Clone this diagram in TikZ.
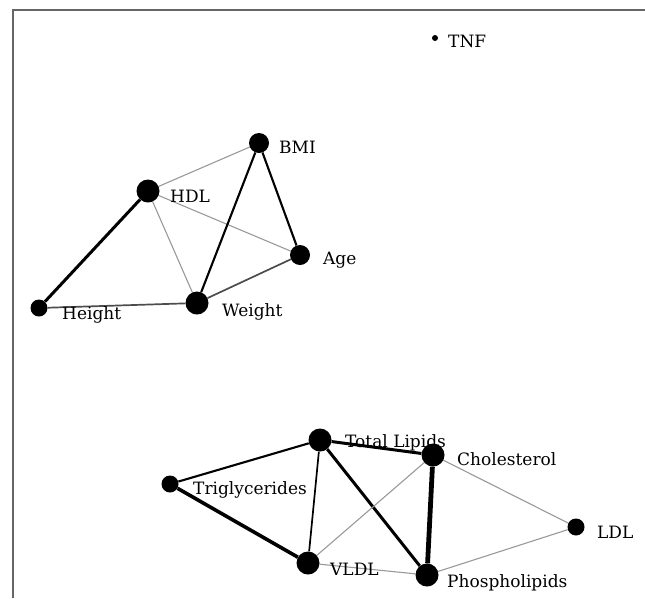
\documentclass[tikz,border=0pt]{standalone}
\usepackage{fontspec}
\setmainfont{DejaVu Serif}
\usetikzlibrary{positioning, backgrounds}

\begin{document}
\begin{tikzpicture}[x=1pt, y=-1pt,
  dotL/.style={circle, fill=black, inner sep=0pt, minimum size=23pt},
  dotM/.style={circle, fill=black, inner sep=0pt, minimum size=20pt},
  dotS/.style={circle, fill=black, inner sep=0pt, minimum size=17pt},
  dotXS/.style={circle, fill=black, inner sep=0pt, minimum size=6pt},
  lbl/.style={anchor=base west, inner sep=0pt, font=\fontsize{17}{19}\selectfont},
  weak/.style={draw=black!40, line width=1.1pt},
  soft/.style={draw=black!70, line width=1.7pt},
  fair/.style={draw=black, line width=2.1pt},
  strong/.style={draw=black, line width=3pt},
  vstrong/.style={draw=black, line width=4.8pt}]
  \useasboundingbox (0,0) rectangle (645,598);
  \draw[black!60, line width=2.5pt] (13,598) -- (13,10) -- (645,10);

  % upper cluster
  \node[dotXS] (tnf) at (435,38) {};
  \node[dotM] (bmi) at (259,143) {};
  \node[dotL] (hdl) at (148,191) {};
  \node[dotM] (age) at (300,255) {};
  \node[dotS] (height) at (39,308) {};
  \node[dotL] (weight) at (197,303) {};

  % lower cluster
  \node[dotL] (tl) at (320,440) {};
  \node[dotL] (chol) at (433,455) {};
  \node[dotS] (trig) at (170,484) {};
  \node[dotS] (ldl) at (576,527) {};
  \node[dotL] (vldl) at (308,563) {};
  \node[dotL] (phos) at (427,575) {};

  % labels
  \node[lbl] (tnfT) at ([shift={(13,9)}]tnf) {TNF};
  \node[lbl] (bmiT) at ([shift={(20,10)}]bmi) {BMI};
  \node[lbl] (hdlT) at ([shift={(22,11)}]hdl) {HDL};
  \node[lbl] (ageT) at ([shift={(23,9)}]age) {Age};
  \node[lbl] (heightT) at ([shift={(23,11)}]height) {Height};
  \node[lbl] (weightT) at ([shift={(25,13)}]weight) {Weight};
  \node[lbl] (tlT) at ([shift={(25,7)}]tl) {Total Lipids};
  \node[lbl] (cholT) at ([shift={(24,10)}]chol) {Cholesterol};
  \node[lbl] (trigT) at ([shift={(23,10)}]trig) {Triglycerides};
  \node[lbl] (ldlT) at ([shift={(21,11)}]ldl) {LDL};
  \node[lbl] (vldlT) at ([shift={(22,12)}]vldl) {VLDL};
  \node[lbl] (phosT) at ([shift={(20,12)}]phos) {Phospholipids};

  \begin{scope}[on background layer]
    \draw[weak] (hdl) -- (bmi);
    \draw[weak] (hdl) -- (weight);
    \draw[weak] (hdl) -- (age);
    \draw[strong] (hdl) -- (height);
    \draw[fair] (bmi) -- (weight);
    \draw[fair] (bmi) -- (age);
    \draw[soft] (weight) -- (age);
    \draw[soft] (height) -- (weight);

    \draw[fair] (tl) -- (trig);
    \draw[soft, draw=black] (tl) -- (vldl);
    \draw[strong] (tl) -- (chol);
    \draw[strong] (tl) -- (phos);
    \draw[strong, line width=3.6pt] (trig) -- (vldl);
    \draw[vstrong] (chol) -- (phos);
    \draw[weak] (chol) -- (vldl);
    \draw[weak] (chol) -- (ldl);
    \draw[weak] (phos) -- (ldl);
    \draw[weak] (vldl) -- (phos);
  \end{scope}
\end{tikzpicture}
\end{document}
